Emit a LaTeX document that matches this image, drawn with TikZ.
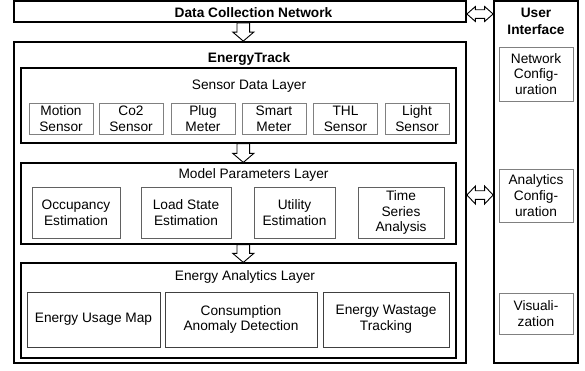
\documentclass[tikz,border=0pt]{standalone}
\usepackage{fontspec}
\setmainfont{Liberation Sans}
\usetikzlibrary{calc}
\tikzset{
  thickbox/.style={draw=black, line width=1.8pt, inner sep=0pt},
  layerbox/.style={draw=black, line width=1.2pt, inner sep=0pt},
  sensorbox/.style={draw=black!50, line width=0.9pt, inner sep=0pt, align=center,
     minimum width=64pt, minimum height=31pt},
  modelbox/.style={draw=black!62, line width=0.9pt, inner sep=0pt, align=center,
     minimum height=51pt},
  anabox/.style={draw=black!75, line width=0.9pt, inner sep=0pt, align=center,
     minimum height=55pt},
  uibox/.style={draw=black!50, line width=0.9pt, inner sep=0pt, align=center,
     minimum width=74pt},
  ttl/.style={inner sep=0pt, anchor=base},
  blockarrow/.style={draw=black, line width=0.9pt, fill=white, line join=miter},
}
\newcommand\txt{\fontsize{13.7pt}{15.8pt}\selectfont}
\newcommand\vblockarrow[2]{%
  \draw[blockarrow] let \p1=(#1), \p2=(#2) in
    (\x1-6.3pt,\y1) -- (\x1+6.3pt,\y1) -- (\x1+6.3pt,\y2+9pt) -- (\x1+10.5pt,\y2+9pt)
    -- (\x2,\y2) -- (\x1-10.5pt,\y2+9pt) -- (\x1-6.3pt,\y2+9pt) -- cycle;}
\newcommand\hdblarrow[3]{%
  \draw[blockarrow] let \p1=(#1), \p2=(#2) in
    (\x1,\y1) -- (\x1+8.5pt,\y1+#3pt) -- (\x1+8.5pt,\y1+4.3pt) -- (\x2-8.5pt,\y1+4.3pt)
    -- (\x2-8.5pt,\y1+#3pt) -- (\x2,\y1) -- (\x2-8.5pt,\y1-#3pt) -- (\x2-8.5pt,\y1-4.3pt)
    -- (\x1+8.5pt,\y1-4.3pt) -- (\x1+8.5pt,\y1-#3pt) -- cycle;}
\begin{document}
\begin{tikzpicture}[x=1pt,y=-1pt, every node/.append style={font=\txt}]
\useasboundingbox (0,0) rectangle (585,370);
% outer boxes
\node[thickbox, minimum width=452pt, minimum height=21pt] (dcn) at (240,11.5) {};
\node[ttl] (dcntxt) at (253.5,17) {\bfseries Data Collection Network};
\node[thickbox, minimum width=452pt, minimum height=321pt] (et) at (240,202.5) {};
\node[ttl] (ettxt) at (249,62) {\bfseries EnergyTrack};
\node[thickbox, minimum width=84pt, minimum height=362pt] (ui) at (536,182) {};
\node[inner sep=0pt, align=center, font=\fontsize{13.7pt}{16.8pt}\selectfont\bfseries] (uitxt) at (536,21.5) {User\\Interface};
% layers
\node[layerbox, minimum width=435pt, minimum height=75pt] (sl) at (238.5,105.5) {};
\node[ttl] (sltxt) at (249,89) {Sensor Data Layer};
\node[layerbox, minimum width=435pt, minimum height=81pt] (ml) at (238.5,203.5) {};
\node[ttl] (mltxt) at (253.5,178) {Model Parameters Layer};
\node[layerbox, minimum width=435pt, minimum height=95pt] (al) at (238.5,310.5) {};
\node[ttl] (altxt) at (245,280) {Energy Analytics Layer};
% sensor boxes
\node[sensorbox] (s1) at (61,118.5) {Motion\\Sensor};
\node[sensorbox] (s2) at (131,118.5) {Co2\\Sensor};
\node[sensorbox] (s3) at (203,118.5) {Plug\\Meter};
\node[sensorbox] (s4) at (274,118.5) {Smart\\Meter};
\node[sensorbox] (s5) at (345.5,118.5) {THL\\Sensor};
\node[sensorbox] (s6) at (417,118.5) {Light\\Sensor};
% model boxes
\node[modelbox, minimum width=88pt] (m1) at (76,212.5) {Occupancy\\Estimation};
\node[modelbox, minimum width=90pt] (m2) at (186,212.5) {Load State\\Estimation};
\node[modelbox, minimum width=81pt] (m3) at (294.5,212.5) {Utility\\Estimation};
\node[modelbox, minimum width=86pt] (m4) at (401,212.5) {Time\\Series\\Analysis};
% analytics boxes
\node[anabox, minimum width=133pt] (a1) at (93.5,319.5) {Energy Usage Map};
\node[anabox, minimum width=152pt] (a2) at (241,319.5) {Consumption\\Anomaly Detection};
\node[anabox, minimum width=126pt] (a3) at (386,319.5) {Energy Wastage\\Tracking};
% ui boxes
\node[uibox, minimum height=54pt] (u1) at (536,74) {Network\\Config-\\uration};
\node[uibox, minimum height=53pt] (u2) at (536,195.5) {Analytics\\Config-\\uration};
\node[uibox, minimum height=41pt] (u3) at (536,313.5) {Visuali-\\zation};
% arrows
\coordinate (ax) at (243.3,0);
\vblockarrow{ax |- dcn.south}{ax |- et.north}
\vblockarrow{ax |- sl.south}{ax |- ml.north}
\vblockarrow{ax |- ml.south}{ax |- al.north}
\coordinate (h1) at (0,14);
\coordinate (h2) at (0,195);
\hdblarrow{h1 -| dcn.east}{h1 -| ui.west}{7.5}
\hdblarrow{h2 -| et.east}{h2 -| ui.west}{9}
\end{tikzpicture}
\end{document}
